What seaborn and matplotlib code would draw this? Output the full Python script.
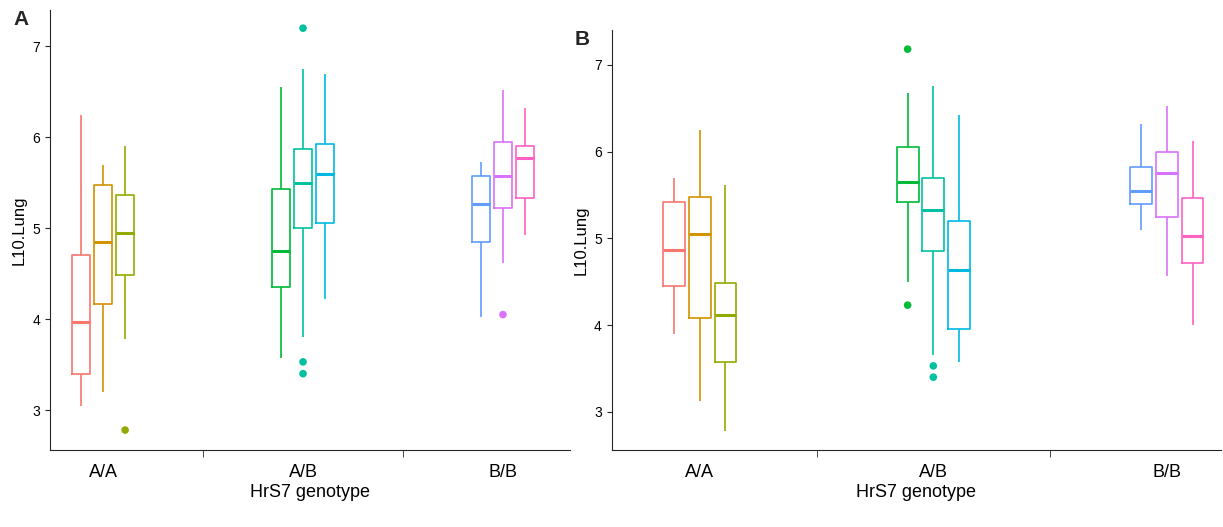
import matplotlib
matplotlib.use("Agg")
import matplotlib.pyplot as plt
import numpy as np
import pandas as pd
import seaborn as sns

genotypes = ["A/A", "A/B", "B/B"]
lines = ["L1", "L2", "L3", "L4", "L5", "L6", "L7", "L8", "L9"]
line_group = [0, 0, 0, 1, 1, 1, 2, 2, 2]
palette = ["#F8766D", "#D39200", "#93AA00", "#00BA38", "#00C19F",
           "#00B9E3", "#619CFF", "#DB72FB", "#FF61C3"]

# five-number summaries per line: whisker low, q1, median, q3, whisker high
stats_a = [
    [3.05, 3.40, 3.97, 4.70, 6.25],
    [3.20, 4.17, 4.85, 5.47, 5.70],
    [3.78, 4.48, 4.95, 5.37, 5.90],
    [3.57, 4.35, 4.75, 5.43, 6.55],
    [3.80, 5.00, 5.50, 5.87, 6.75],
    [4.22, 5.06, 5.60, 5.93, 6.70],
    [4.02, 4.85, 5.27, 5.57, 5.73],
    [4.62, 5.22, 5.57, 5.95, 6.52],
    [4.92, 5.33, 5.77, 5.90, 6.32],
]
outliers_a = {"L3": [2.78], "L5": [7.20, 3.53, 3.40], "L8": [4.05]}

stats_b = [
    [3.90, 4.45, 4.87, 5.42, 5.70],
    [3.13, 4.08, 5.05, 5.48, 6.25],
    [2.78, 3.57, 4.12, 4.48, 5.62],
    [4.50, 5.42, 5.65, 6.05, 6.68],
    [3.65, 4.85, 5.33, 5.70, 6.75],
    [3.57, 3.95, 4.63, 5.20, 6.42],
    [5.10, 5.40, 5.55, 5.82, 6.32],
    [4.57, 5.25, 5.75, 6.00, 6.52],
    [4.00, 4.72, 5.03, 5.47, 6.12],
]
outliers_b = {"L4": [7.18, 4.23], "L5": [3.53, 3.40]}

offsets = [-0.11, 0.0, 0.11]


def make_frames(stats, outliers):
    rows, out_rows = [], []
    for i, (name, s) in enumerate(zip(lines, stats)):
        pos = line_group[i] + offsets[i % 3]
        for v in s:
            rows.append({"x": pos, "line": name, "val": v})
        for v in outliers.get(name, []):
            out_rows.append({"x": pos, "line": name, "val": v})
    return pd.DataFrame(rows), pd.DataFrame(out_rows)


def draw_panel(ax, stats, outliers, label, xlim, lx):
    df, out = make_frames(stats, outliers)
    sns.boxplot(data=df, x="x", y="val", hue="line", hue_order=lines,
                palette=palette, native_scale=True, dodge=False, fill=False,
                whis=np.inf, width=0.85, linewidth=1.2, legend=False, ax=ax,
                showcaps=False, medianprops={"linewidth": 2.2})
    sns.scatterplot(data=out, x="x", y="val", hue="line", hue_order=lines,
                    palette=palette, s=30, edgecolor="none", legend=False, ax=ax)
    ax.set_xlim(*xlim)
    ax.set_ylim(2.56, 7.4)
    ax.set_xticks([0, 1, 2])
    ax.set_xticklabels(genotypes, fontsize=13, color="black")
    ax.set_xticks([0.5, 1.5], minor=True)
    ax.tick_params(axis="x", which="major", length=0, pad=10)
    ax.tick_params(axis="x", which="minor", length=5)
    ax.set_yticks([3, 4, 5, 6, 7])
    ax.tick_params(axis="y", labelsize=10, labelcolor="black")
    ax.set_xlabel("HrS7 genotype", fontsize=13, color="black", labelpad=2)
    ax.set_ylabel("L10.Lung", fontsize=12, color="black")
    sns.despine(ax=ax)
    ax.text(lx, 1.0, label, transform=ax.transAxes, fontsize=15,
            fontweight="bold", va="top")


sns.set_style("ticks")
plt.rcParams['font.family'] = ['Liberation Sans', 'DejaVu Sans']
fig = plt.figure(figsize=(12.23, 5.27), dpi=100)
ax1 = fig.add_axes([0.041, 0.146, 0.425, 0.835])
ax2 = fig.add_axes([0.5, 0.146, 0.498, 0.797])
draw_panel(ax1, stats_a, outliers_a, "A", (-0.265, 2.335), -0.07)
draw_panel(ax2, stats_b, outliers_b, "B", (-0.378, 2.23), -0.06)
fig.savefig("out.png", dpi=100)
